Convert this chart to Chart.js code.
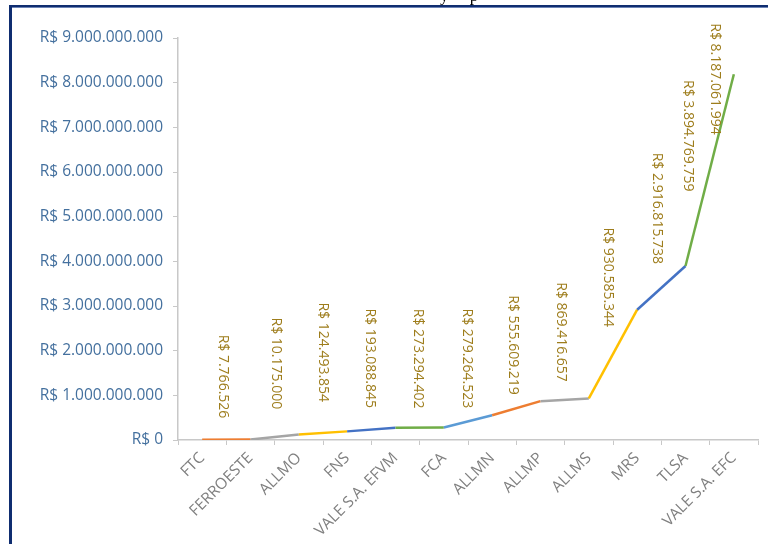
<!DOCTYPE html>
<html>
<head>
<meta charset="utf-8">
<script src="https://cdn.jsdelivr.net/npm/chart.js@4/dist/chart.umd.min.js"></script>
<style>
  html, body { margin: 0; padding: 0; background: #fff; }
  #wrap { position: relative; width: 768px; height: 544px; overflow: hidden; }
  canvas { position: absolute; left: 0; top: 0; }
  .bTop { position: absolute; left: 9px; top: 5px; width: 759px; height: 2px; background: #0F2D70; }
  .bTop2 { position: absolute; left: 11px; top: 7px; width: 757px; height: 1px; background: #6C83B5; }
  .bLeft { position: absolute; left: 9px; top: 5px; width: 3px; height: 539px; background: #0F2D70; }
  .cut { position: absolute; left: 440px; top: -14px; font: 17px "Liberation Serif", serif; color: #000; white-space: pre; }
</style>
</head>
<body>
<div id="wrap">
  <canvas id="c" width="768" height="544"></canvas>
  <div class="cut">y     p</div>
  <div class="bTop"></div>
  <div class="bTop2"></div>
  <div class="bLeft"></div>
</div>
<script>
const categories = ["FTC", "FERROESTE", "ALLMO", "FNS", "VALE S.A. EFVM", "FCA", "ALLMN", "ALLMP", "ALLMS", "MRS", "TLSA", "VALE S.A. EFC"];
const values = [7766526, 10175000, 124493854, 193088845, 273294402, 279264523, 555609219, 869416657, 930585344, 2916815738, 3894769759, 8187061994];
const yTicks = [0, 1000000000, 2000000000, 3000000000, 4000000000, 5000000000, 6000000000, 7000000000, 8000000000, 9000000000];
const segmentColors = ["#ED7D31", "#A5A5A5", "#FFC000", "#4472C4", "#70AD47", "#5B9BD5", "#ED7D31", "#A5A5A5", "#FFC000", "#4472C4", "#70AD47"];
// label nudges relative to each point: [dx, dyTop]
const labelNudge = [[21,-105],[25,-122],[24,-132],[23,-123],[22,-119],[23,-119],[21,-120],[20,-119],[19,-171],[20,-157],[2,-186],[-19,-51]];

function brl(v) {
  return "R$ " + String(Math.round(v)).replace(/\B(?=(\d{3})+(?!\d))/g, ".");
}

const labelPlugin = {
  id: "vlabels",
  afterDatasetsDraw(chart) {
    const meta = chart.getDatasetMeta(0);
    const ctx = chart.ctx;
    ctx.save();
    ctx.font = '14px "Open Sans"';
    ctx.fillStyle = "#9E7D1C";
    ctx.textBaseline = "middle";
    ctx.textAlign = "left";
    meta.data.forEach((pt, i) => {
      const n = labelNudge[i];
      ctx.save();
      ctx.translate(pt.x + n[0], pt.y + n[1]);
      ctx.rotate(Math.PI / 2);
      ctx.fillText(brl(values[i]), 0, 0);
      ctx.restore();
    });
    ctx.restore();
  }
};

new Chart(document.getElementById("c"), {
  type: "line",
  data: {
    labels: categories,
    datasets: [{
      data: values,
      borderWidth: 2.5,
      pointRadius: 0,
      fill: false,
      tension: 0,
      borderColor: "#4472C4",
      segment: { borderColor: c => segmentColors[c.p0DataIndex] }
    }]
  },
  options: {
    responsive: false,
    animation: false,
    devicePixelRatio: 1,
    layout: { padding: { left: 0, top: 38, right: 10, bottom: 0 } },
    plugins: { legend: { display: false }, tooltip: { enabled: false }, title: { display: false } },
    scales: {
      x: {
        type: "category",
        offset: true,
        grid: { offset: true, drawOnChartArea: false, drawTicks: true, tickLength: 5, color: "#C8C8C8", lineWidth: 1 },
        border: { color: "#C8C8C8", width: 1.5 },
        ticks: { color: "#808080", font: { family: "Open Sans", size: 15.5 }, minRotation: 45, maxRotation: 45, padding: 4, autoSkip: false },
        afterFit: s => { s.height = 104; }
      },
      y: {
        min: 0, max: 9000000000,
        afterBuildTicks: s => { s.ticks = yTicks.map(v => ({ value: v })); },
        grid: { drawOnChartArea: false, drawTicks: true, tickLength: 5, color: "#C8C8C8" },
        border: { color: "#C8C8C8", width: 1.5 },
        ticks: { color: "#44709E", font: { family: "Open Sans", size: 15.5 }, padding: 10, callback: v => brl(v) },
        afterFit: s => { s.width = 178; }
      }
    }
  },
  plugins: [labelPlugin]
});
</script>
</body>
</html>
